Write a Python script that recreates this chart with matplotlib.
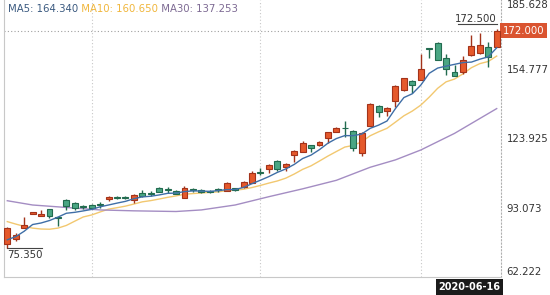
import matplotlib
matplotlib.use("Agg")
import matplotlib.pyplot as plt
import numpy as np
import pandas as pd

# daily OHLC (59 sessions up to 2020-06-16)
opens = [76.9, 79.0, 84.2, 90.3, 89.4, 92.4, 88.6, 96.5, 95.0, 93.6,
         94.3, 94.4, 97.0, 98.0, 98.0, 96.5, 99.8, 99.6, 101.7, 101.1,
         100.7, 97.3, 101.1, 101.0, 100.3, 101.1, 100.7, 101.7, 102.2, 104.2,
         108.8, 110.2, 113.8, 111.1, 116.6, 118.0, 121.0, 121.0, 124.0, 127.0,
         128.6, 127.3, 117.3, 129.6, 138.4, 136.2, 140.8, 145.5, 149.5, 150.0,
         164.2, 166.6, 159.6, 153.6, 153.6, 161.1, 161.9, 164.8, 164.8]
highs = [84.5, 81.8, 89.1, 91.4, 92.1, 92.7, 88.9, 97.0, 95.6, 94.1,
         94.7, 95.6, 98.3, 98.3, 98.4, 99.2, 101.0, 100.5, 102.3, 102.1,
         101.2, 102.8, 101.9, 101.5, 101.2, 101.9, 104.5, 102.0, 105.2, 109.4,
         110.6, 112.6, 114.3, 112.8, 118.8, 122.8, 121.2, 123.0, 127.0, 129.0,
         131.9, 127.7, 126.8, 139.7, 138.8, 137.9, 147.7, 151.1, 150.0, 161.6,
         164.4, 166.9, 161.6, 156.7, 160.7, 170.0, 170.8, 167.0, 172.5]
lows = [75.35, 78.3, 84.0, 90.1, 89.2, 88.4, 85.1, 92.1, 92.1, 92.4,
        92.5, 93.0, 96.1, 97.0, 97.1, 95.1, 97.9, 98.3, 99.9, 99.6,
        99.0, 97.3, 100.3, 99.7, 99.8, 100.1, 100.5, 100.5, 101.9, 103.9,
        107.7, 108.7, 109.4, 109.6, 113.6, 117.7, 118.0, 120.8, 121.8, 126.8,
        124.5, 118.4, 116.1, 129.5, 133.4, 133.9, 138.1, 145.3, 144.3, 149.8,
        159.6, 159.3, 152.0, 151.6, 152.7, 160.9, 161.6, 155.9, 164.7]
closes = [83.9, 80.8, 85.4, 91.0, 90.3, 89.4, 88.4, 94.0, 93.1, 93.4,
          92.8, 94.2, 98.0, 97.3, 97.3, 98.7, 98.3, 99.4, 100.2, 100.9,
          99.2, 101.7, 100.9, 99.9, 100.1, 100.9, 104.0, 101.0, 104.7, 108.4,
          108.6, 112.1, 110.3, 112.4, 118.4, 121.8, 119.8, 122.5, 126.7, 128.7,
          128.4, 119.6, 126.2, 139.3, 135.9, 137.6, 147.3, 150.7, 147.8, 155.0,
          164.0, 159.0, 155.0, 151.8, 159.0, 165.0, 165.5, 160.2, 172.0]

ma5_head = [78.8, 80.2, 82.6, 85.6]
ma10_head = [86.9, 85.8, 84.8, 84.0, 83.6, 83.5, 84.0, 85.2, 87.1]
ma30_idx = [0, 3, 7, 11, 15, 20, 23, 27, 31, 35, 39, 43, 46, 49, 53, 58]
ma30_val = [96.2, 94.3, 93.2, 92.1, 91.7, 91.4, 92.1, 94.3, 98.0, 101.5,
            105.3, 111.1, 114.4, 118.8, 126.2, 137.25]

legend_names = ["MA5", "MA10", "MA30"]
legend_values = [164.340, 160.650, 137.253]
y_ticks = [62.222, 93.073, 123.925, 154.777, 185.628]
last_date = "2020-06-16"
grid_idx = [10, 30, 49]

UP_FILL, UP_EDGE = "#e5592b", "#a3331a"
DN_FILL, DN_EDGE = "#4aa683", "#226b4f"
MA_COLORS = ["#3f6ea6", "#f2c870", "#a48dc3"]
LEGEND_COLORS = ["#3b5a80", "#f0b63c", "#7d6a93"]

df = pd.DataFrame({"open": opens, "high": highs, "low": lows, "close": closes})
x = np.arange(len(df))
ma5 = df["close"].rolling(5).mean().to_numpy()
ma5[:4] = ma5_head
ma10 = df["close"].rolling(10).mean().to_numpy()
ma10[:9] = ma10_head

plt.rcParams.update({"font.family": "DejaVu Sans", "font.size": 7})
fig = plt.figure(figsize=(5.5, 2.95), dpi=100)
ax = fig.add_axes([4 / 550, 18 / 295, 497 / 550, 277 / 295])

up = df["close"] >= df["open"]
wick_col = np.where(up, UP_EDGE, DN_EDGE)
ax.vlines(x, df["low"], df["high"], colors=wick_col, linewidth=1.0, zorder=3)
body_h = (df["close"] - df["open"]).abs().clip(lower=0.35)
body_b = df[["open", "close"]].min(axis=1)
ax.bar(x, body_h, bottom=body_b, width=0.7,
       color=np.where(up, UP_FILL, DN_FILL), edgecolor=wick_col,
       linewidth=0.8, zorder=4)

ax.plot(x, ma5, color=MA_COLORS[0], linewidth=1.0, zorder=5)
ax.plot(x, ma10, color=MA_COLORS[1], linewidth=1.0, zorder=2)
ax.plot(ma30_idx, ma30_val, color=MA_COLORS[2], linewidth=1.0, zorder=2)

ax.set_xlim(-0.39, 58.51)
ax.set_ylim(y_ticks[0], y_ticks[-1])

# split lines + last price line
for gi in grid_idx:
    ax.axvline(gi, color="#c8c8c8", linewidth=0.8, linestyle=(0, (1, 2)), zorder=1)
ax.axhline(closes[-1], color="#a0a0a0", linewidth=0.8, linestyle=(0, (1, 2)), zorder=1)

ax.spines["top"].set_visible(False)
ax.spines["left"].set_color("#c8c8c8")
ax.spines["bottom"].set_color("#c8c8c8")
ax.spines["right"].set_color("#b0b0b0")
ax.spines["right"].set_linestyle((0, (1, 2)))
ax.set_xticks([])

ax.yaxis.tick_right()
ax.set_yticks(y_ticks)
ax.set_yticklabels([f"{v:.3f}" for v in y_ticks], color="#333333", fontsize=7.3)
ax.tick_params(axis="y", length=0, pad=4)
labels = ax.get_yticklabels()
labels[0].set_verticalalignment("bottom")
labels[-1].set_verticalalignment("top")

# legend row of MA values
t = ax.text(0.008, 0.985, f"{legend_names[0]}: {legend_values[0]:.3f}",
            transform=ax.transAxes, color=LEGEND_COLORS[0], fontsize=7.3,
            va="top", ha="left")
for name, val, col in zip(legend_names[1:], legend_values[1:], LEGEND_COLORS[1:]):
    t = ax.annotate(f" {name}: {val:.3f}", xy=(1, 0), xycoords=t, va="bottom",
                    ha="left", color=col, fontsize=7.3)

# max / min marks
imax = int(np.argmax(highs))
imin = int(np.argmin(lows))
ax.annotate(f"{highs[imax]:.3f}", xy=(imax, highs[imax]), xytext=(0, 4),
            textcoords="offset points", ha="right", va="bottom", fontsize=7.3,
            color="#333333")
ax.plot([imax - 4.6, imax], [highs[imax] + 2.3, highs[imax] + 2.3],
        color="#444444", linewidth=0.8, clip_on=False)
ax.plot([imin, imin + 4.1], [lows[imin] - 0.3, lows[imin] - 0.3],
        color="#444444", linewidth=0.8)
ax.annotate(f"{lows[imin]:.3f}", xy=(imin, lows[imin]), xytext=(0, -1.5),
            textcoords="offset points", ha="left", va="top", fontsize=7.3,
            color="#333333")

# current price tag and date tag
ax.text(1.004, closes[-1], f"{closes[-1]:.3f}", transform=ax.get_yaxis_transform(),
        ha="left", va="center", color="white", fontsize=7.3,
        bbox=dict(boxstyle="square,pad=0.25", facecolor="#da5430", edgecolor="none"))
ax.text(0.999, -0.036, last_date, transform=ax.transAxes, ha="right", va="center",
        color="white", fontsize=7, fontweight="bold",
        bbox=dict(boxstyle="square,pad=0.3", facecolor="#1b1b1b", edgecolor="none"))

fig.savefig("out.png", dpi=100)
